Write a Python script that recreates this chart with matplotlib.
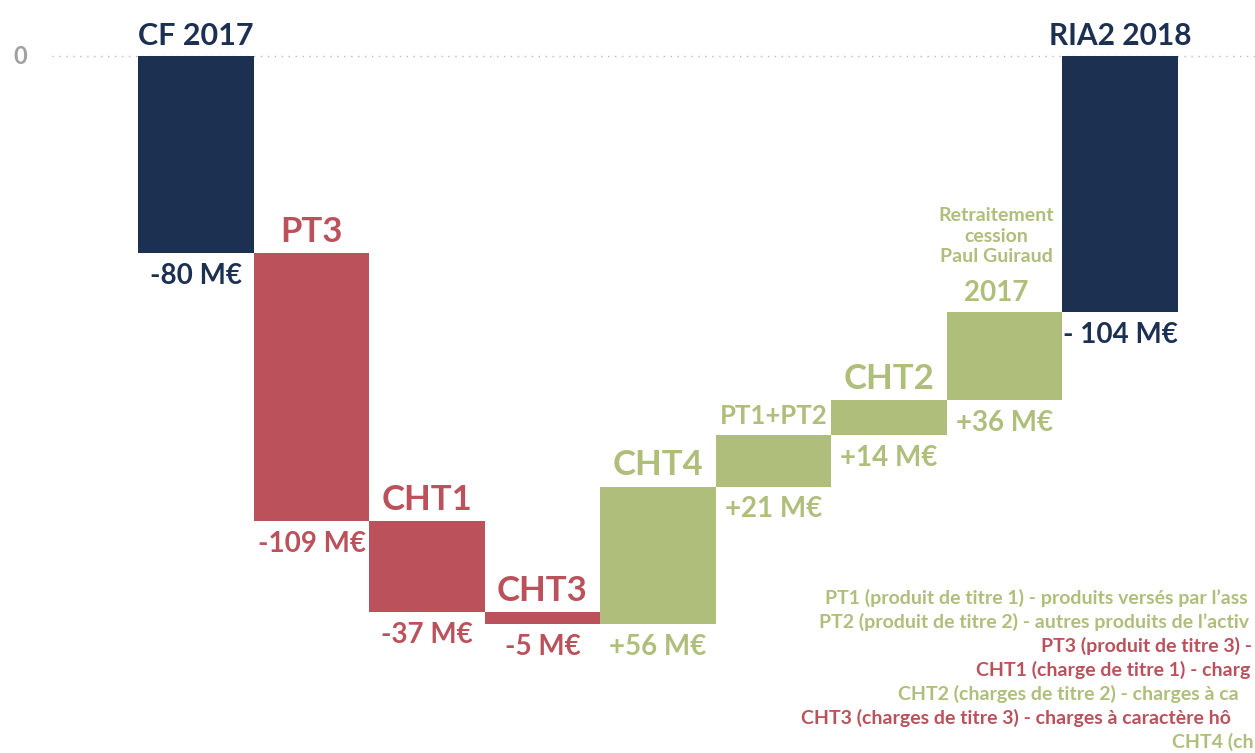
import numpy as np
import matplotlib.pyplot as plt

plt.rcParams['font.family'] = ['Lato', 'DejaVu Sans']

# données du graphique (M€)
categories = ['CF 2017', 'PT3', 'CHT1', 'CHT3', 'CHT4', 'PT1+PT2', 'CHT2', '2017', 'RIA2 2018']
deltas = [-80, -109, -37, -5, 56, 21, 14, 36, -104]
kinds = ['total', 'neg', 'neg', 'neg', 'pos', 'pos', 'pos', 'pos', 'total']
value_labels = ['-80 M€', '-109 M€', '-37 M€', '-5 M€', '+56 M€', '+21 M€', '+14 M€', '+36 M€', '- 104 M€']
cat_sizes = [22, 25, 25, 25, 25, 18.5, 25, 20, 21.5]
note_2017 = 'Retraitement\ncession\nPaul Guiraud'
# texte de légende tel qu'il est visible (coupé au bord droit)
legend_lines = [
    ('PT1 (produit de titre 1) - produits versés par l’ass', 'pos', 825),
    ('PT2 (produit de titre 2) - autres produits de l’activ', 'pos', 819),
    ('PT3 (produit de titre 3) -', 'neg', 1041),
    ('CHT1 (charge de titre 1) - charg', 'neg', 976),
    ('CHT2 (charges de titre 2) - charges à ca', 'pos', 898),
    ('CHT3 (charges de titre 3) - charges à caractère hô', 'neg', 801),
    ('CHT4 (ch', 'pos', 1172),
]

colors = {'total': '#1c3052', 'neg': '#bb515a', 'pos': '#afbe7b'}

# calcul des bases de la cascade
bottoms, heights = [], []
level = 0
for d, k in zip(deltas, kinds):
    if k == 'total':
        bottoms.append(0)
        heights.append(d)
        level = d if level == 0 else level
    else:
        bottoms.append(level)
        heights.append(d)
        level += d

W, H = 1255, 753
fig = plt.figure(figsize=(W / 100, H / 100), dpi=100)
ax = fig.add_axes([0, 0, 1, 1])
x0, step, y0, scale = 196, 115.5, 56, 2.46
ax.set_xlim(-x0 / step, (W - x0) / step)
ax.set_ylim(-(H - y0) / scale, y0 / scale)
ax.axis('off')

x = np.arange(len(categories))
ax.plot([(52 - x0) / step, (W - x0) / step], [0, 0], linestyle=(0, (1, 4)),
        color='#bbbbbb', linewidth=1, zorder=0)
ax.text((20 - x0) / step, 0, '0', color='#a0a0a0', fontsize=17, fontweight='bold',
        ha='center', va='center')

for i in x:
    c = colors[kinds[i]]
    ax.bar(i, heights[i], bottom=bottoms[i], width=1.0, color=c, linewidth=0, zorder=2)
    top = max(bottoms[i], bottoms[i] + heights[i])
    bot = min(bottoms[i], bottoms[i] + heights[i])
    dx = -6 if categories[i] == '2017' else 0
    ax.annotate(categories[i], (i, top), xytext=(dx, 8), textcoords='offset points',
                ha='center', va='baseline', fontsize=cat_sizes[i],
                fontweight='bold', color=c)
    if categories[i] == '2017':
        ax.annotate(note_2017, (i, top), xytext=(dx, 34), textcoords='offset points',
                    ha='center', va='bottom', fontsize=14, fontweight='bold', color=c,
                    linespacing=1.22)
    ax.annotate(value_labels[i], (i, bot), xytext=(0, -7), textcoords='offset points',
                ha='center', va='top', fontsize=20, fontweight='bold', color=c)

for j, (txt, k, px) in enumerate(legend_lines):
    fig.text(px / W, 1 - (598 + 24 * j) / H, txt, color=colors[k], fontsize=14,
             fontweight='bold', ha='left', va='center')

fig.savefig('out.png', dpi=100)
